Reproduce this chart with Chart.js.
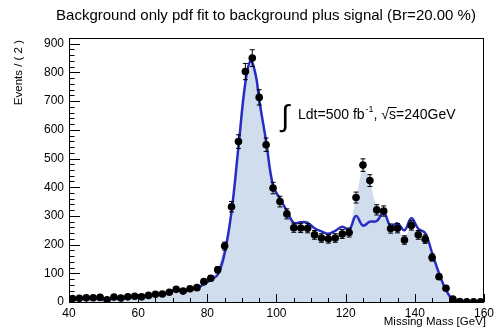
<!DOCTYPE html>
<html>
<head>
<meta charset="utf-8">
<script src="https://cdn.jsdelivr.net/npm/chart.js@4/dist/chart.umd.min.js"></script>
<style>
  body { margin: 0; background: #fff; }
  canvas { display: block; }
</style>
</head>
<body>
<canvas id="chart" width="498" height="328"></canvas>
<script>
// bin centres of the 2 GeV wide bins, 40..160
const binCenters = Array.from({ length: 60 }, (_, i) => 41 + 2 * i);

// events per bin (data points)
const events = [
  12, 13, 15, 15, 16, 8, 17, 14, 18, 20,
  18, 23, 27, 28, 34, 44, 38, 46, 50, 71,
  83, 112, 195, 332, 559, 803, 850, 713, 548, 397,
  350, 307, 259, 258, 257, 234, 223, 220, 223, 237,
  242, 364, 477, 423, 321, 317, 256, 257, 216, 267,
  234, 219, 155, 88, 48, 10, 2, 1, 1, 1
];

// background only pdf
const fitMass = [
  41, 43, 45, 47, 49, 51, 53, 55, 57, 59,
  61, 63, 65, 67, 69, 71, 73, 75, 77, 79,
  81, 83, 85, 87, 89, 91, 92.5, 94, 95, 97, 99,
  101, 103, 105, 107, 109, 111, 113, 115, 117, 119,
  121, 123, 125, 127, 129, 131, 133, 135, 137, 139,
  141, 143, 145, 147, 149, 151, 153, 155, 157, 159
];
const fitValues = [
  10, 12, 13, 13, 13, 5, 15, 11, 16, 18,
  16, 22, 25, 29, 32, 42, 36, 44, 48, 62,
  78, 95, 170, 315, 540, 765, 840, 790, 705, 560, 405,
  360, 318, 275, 278, 276, 257, 246, 238, 248, 262,
  252, 300, 266, 280, 282, 312, 265, 274, 250, 292,
  255, 240, 170, 100, 42, 8, 2, 1, 1, 1
];

const xTicks = [40, 60, 80, 100, 120, 140, 160];
const yTicks = [0, 100, 200, 300, 400, 500, 600, 700, 800, 900];

const FONT = '"Liberation Sans", Arial, sans-serif';

const dataPts = binCenters.map((m, i) => ({ x: m, y: events[i] }));
const fitPts = fitMass.map((m, i) => ({ x: m, y: fitValues[i] }));

// frame + ROOT style inner ticks
const framePlugin = {
  id: 'frame',
  afterDraw(chart) {
    const { ctx, chartArea: a, scales: { x, y } } = chart;
    ctx.save();
    ctx.strokeStyle = '#000';
    ctx.lineWidth = 1;
    ctx.beginPath();
    for (let v = 40; v <= 160; v += 5) {
      const px = Math.round(x.getPixelForValue(v)) + 0.5;
      const len = v % 20 === 0 ? 8 : 4;
      ctx.moveTo(px, a.bottom);
      ctx.lineTo(px, a.bottom - len);
    }
    for (let v = 0; v <= 900; v += 20) {
      const py = Math.round(y.getPixelForValue(v)) + 0.5;
      const len = v % 100 === 0 ? 11 : 5.5;
      ctx.moveTo(a.left, py);
      ctx.lineTo(a.left + len, py);
    }
    ctx.stroke();
    ctx.strokeRect(a.left + 0.5, a.top + 0.5, a.right - a.left - 1, a.bottom - a.top);
    ctx.restore();
  }
};

// sqrt(N) vertical bars and bin width horizontal bars
const errorPlugin = {
  id: 'errors',
  beforeDatasetDraw(chart, args) {
    if (args.index !== 2) return;
    const { ctx, scales: { x, y } } = chart;
    ctx.save();
    ctx.strokeStyle = '#000';
    ctx.lineWidth = 1;
    ctx.beginPath();
    binCenters.forEach((m, i) => {
      const v = events[i];
      const e = Math.sqrt(v);
      const px = x.getPixelForValue(m);
      const py = y.getPixelForValue(v);
      const top = y.getPixelForValue(v + e);
      const bot = y.getPixelForValue(Math.max(0, v - e));
      ctx.moveTo(px, top);
      ctx.lineTo(px, bot);
      ctx.moveTo(px - 2.5, top);
      ctx.lineTo(px + 2.5, top);
      ctx.moveTo(px - 2.5, bot);
      ctx.lineTo(px + 2.5, bot);
      ctx.moveTo(x.getPixelForValue(m - 1), py);
      ctx.lineTo(x.getPixelForValue(m + 1), py);
    });
    ctx.stroke();
    ctx.restore();
  }
};

const textPlugin = {
  id: 'texts',
  afterDraw(chart) {
    const { ctx } = chart;
    ctx.save();
    ctx.fillStyle = '#000';
    ctx.textBaseline = 'alphabetic';

    ctx.font = '15px ' + FONT;
    ctx.textAlign = 'center';
    ctx.fillText('Background only pdf fit to background plus signal (Br=20.00 %)', 266, 20);

    ctx.font = '11.5px ' + FONT;
    ctx.textAlign = 'right';
    ctx.fillText('Missing Mass [GeV]', 486, 325);

    ctx.save();
    ctx.translate(22, 40);
    ctx.rotate(-Math.PI / 2);
    ctx.textAlign = 'right';
    ctx.fillText('Events / ( 2 )', 0, 0);
    ctx.restore();

    // luminosity label
    ctx.textAlign = 'left';
    ctx.font = '30px ' + FONT;
    ctx.fillText('\u222B', 281, 126);
    ctx.font = '14px ' + FONT;
    let tx = 298;
    const base = 119;
    ctx.fillText('Ldt=500 fb', tx, base);
    tx += ctx.measureText('Ldt=500 fb').width;
    ctx.font = '9px ' + FONT;
    ctx.fillText('-1', tx + 1, base - 7);
    tx += ctx.measureText('-1').width + 1;
    ctx.font = '14px ' + FONT;
    ctx.fillText(', ', tx, base);
    tx += ctx.measureText(', ').width;
    ctx.fillText('\u221A', tx, base);
    tx += ctx.measureText('\u221A').width;
    const sw = ctx.measureText('s').width;
    ctx.fillText('s=240GeV', tx, base);
    ctx.lineWidth = 1;
    ctx.beginPath();
    ctx.moveTo(tx - 1, base - 11.5);
    ctx.lineTo(tx + sw + 0.5, base - 11.5);
    ctx.stroke();
    ctx.restore();
  }
};

new Chart(document.getElementById('chart'), {
  type: 'scatter',
  data: {
    datasets: [
      {
        data: dataPts,
        order: 3,
        showLine: true,
        fill: 'origin',
        backgroundColor: 'rgba(208,221,237,1)',
        borderWidth: 0,
        pointRadius: 0,
        tension: 0
      },
      {
        data: fitPts,
        order: 2,
        showLine: true,
        fill: false,
        borderColor: 'rgb(38,44,196)',
        borderWidth: 2.5,
        pointRadius: 0,
        tension: 0.4
      },
      {
        data: dataPts,
        order: 1,
        showLine: false,
        pointRadius: 3.8,
        pointBackgroundColor: '#000',
        pointBorderColor: '#000',
        pointBorderWidth: 0
      }
    ]
  },
  options: {
    responsive: false,
    animation: false,
    layout: { padding: { left: 0, right: 11, top: 38, bottom: 0 } },
    plugins: {
      legend: { display: false },
      tooltip: { enabled: false }
    },
    scales: {
      x: {
        type: 'linear',
        min: 40,
        max: 160,
        afterFit: s => { s.height = 26; },
        afterBuildTicks: s => { s.ticks = xTicks.map(v => ({ value: v })); },
        grid: { display: false, drawTicks: false },
        border: { display: false },
        ticks: { color: '#000', font: { family: FONT, size: 12 }, padding: 4, maxRotation: 0 }
      },
      y: {
        min: 0,
        max: 920,
        afterFit: s => { s.width = 69; },
        afterBuildTicks: s => { s.ticks = yTicks.map(v => ({ value: v })); },
        grid: { display: false, drawTicks: false },
        border: { display: false },
        ticks: { color: '#000', font: { family: FONT, size: 12 }, padding: 5 }
      }
    }
  },
  plugins: [framePlugin, errorPlugin, textPlugin]
});
</script>
</body>
</html>
